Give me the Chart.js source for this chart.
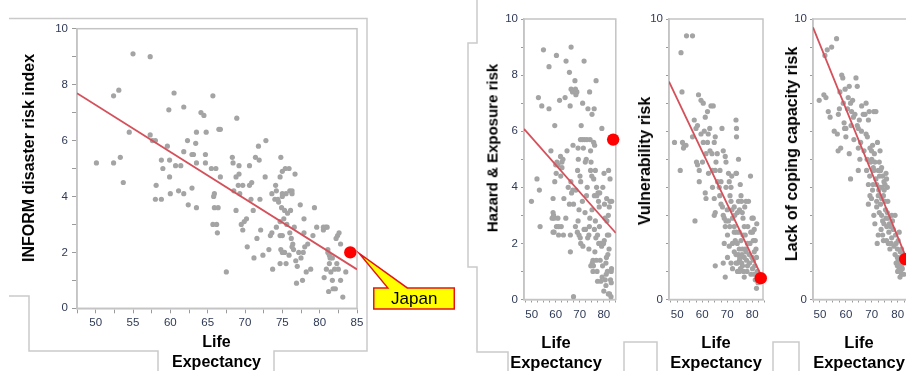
<!DOCTYPE html>
<html>
<head>
<meta charset="utf-8">
<script src="https://cdn.jsdelivr.net/npm/chart.js@4.4.0/dist/chart.umd.min.js"></script>
<style>
html, body { margin: 0; padding: 0; background: #fff; width: 906px; height: 371px; overflow: hidden; position: relative; }
canvas { position: absolute; top: 0; }
.ytitle { position: absolute; font: bold 16px "Liberation Sans", Arial, sans-serif; white-space: nowrap; color: #000;
          transform: translate(-50%, -50%) rotate(-90deg); }
.xtitle { position: absolute; font: bold 16px "Liberation Sans", Arial, sans-serif; text-align: center; line-height: 20px;
          white-space: nowrap; color: #000; transform: translateX(-50%); }
</style>
</head>
<body>
<svg width="906" height="371" style="position:absolute;left:0;top:0">
  <g fill="none" stroke="#cacaca" stroke-width="1.5">
    <polyline points="9,18.5 367,18.5 367,351 274,351 274,371"/>
    <polyline points="9,296 29,296 29,351 158,351 158,371"/>
    <polyline points="477,0 477,43 468,43 468,267 477,267 477,352 508,352 508,371"/>
    <polyline points="624,371 624,342 657,342 657,371"/>
    <polyline points="773,371 773,342 799,342 799,371"/>
  </g>
</svg>
<canvas id="mainChart" width="460" height="371" style="left:0px"></canvas>
<canvas id="hazChart" width="160" height="371" style="left:462px"></canvas>
<canvas id="vulChart" width="150" height="371" style="left:622px"></canvas>
<canvas id="copChart" width="150" height="371" style="left:772px"></canvas>

<div class="ytitle" style="left:29px;top:157.5px">INFORM disaster risk index</div>
<div class="ytitle" style="left:492px;top:147.5px;font-size:15px">Hazard &amp; Exposure risk</div>
<div class="ytitle" style="left:645px;top:160.5px">Vulnerability risk</div>
<div class="ytitle" style="left:792px;top:154px">Lack of coping capacity risk</div>
<div class="xtitle" style="left:216.5px;top:332px">Life<br>Expectancy</div>
<div class="xtitle" style="left:556px;top:332px;font-size:16.5px">Life<br>Expectancy</div>
<div class="xtitle" style="left:716px;top:332px;font-size:16.5px">Life<br>Expectancy</div>
<div class="xtitle" style="left:859px;top:332px;font-size:16.5px">Life<br>Expectancy</div>

<script>
// INFORM disaster risk index vs life expectancy (one point per country)
const mainLife = [
  50.1,52.4,52.4,53.1,53.3,53.7,54.5,55.0,57.3,57.3,
  57.6,58.0,58.1,58.0,58.8,58.8,59.0,59.6,59.8,59.9,
  59.9,60.0,60.5,60.7,61.1,61.4,61.8,61.8,61.8,62.3,
  62.4,62.9,62.9,63.1,63.4,63.5,63.5,63.5,64.1,64.5,
  64.7,64.7,64.8,65.5,65.7,65.8,65.9,65.9,65.7,66.1,
  66.2,66.3,66.4,66.5,66.7,66.7,67.5,68.3,68.4,68.5,
  68.8,68.8,68.9,69.2,69.1,69.2,69.3,69.5,69.7,69.7,
  69.9,70.2,70.3,70.6,70.6,70.8,70.9,71.1,71.2,71.4,
  71.6,71.8,71.9,72.0,72.1,72.4,72.7,72.8,73.2,73.4,
  73.6,73.6,73.7,74.0,74.1,74.2,74.2,74.4,74.5,74.7,
  74.7,74.7,74.8,74.7,74.8,75.0,75.0,75.0,74.9,75.0,
  75.0,75.2,75.3,75.3,75.4,75.5,75.5,75.6,75.7,75.9,
  75.9,76.0,76.0,76.1,76.2,76.3,76.3,76.3,76.4,76.5,
  76.6,76.7,76.8,76.9,77.0,77.2,77.4,77.5,77.7,77.8,
  77.9,77.9,78.0,78.2,78.4,78.8,79.1,79.3,79.6,80.5,
  80.5,80.8,80.6,80.9,81.0,81.1,81.1,81.2,81.3,81.3,
  81.4,81.5,81.7,81.7,81.8,82.0,82.1,82.2,82.3,82.4,
  82.5,82.6,82.8,82.8,83.1,83.5
];
const mainRisk = [
  5.2,5.2,7.6,7.8,5.4,4.5,6.3,9.1,9.0,6.2,
  6.0,6.0,4.4,3.9,3.9,5.3,5.0,5.8,7.1,5.3,
  4.7,4.1,7.7,5.1,4.2,5.1,4.1,5.6,7.2,6.0,
  3.7,5.5,4.3,5.5,5.9,6.3,5.2,3.6,7.0,6.9,
  5.5,5.2,6.3,5.0,7.6,4.0,4.1,3.6,3.0,5.0,
  3.0,2.7,3.6,6.4,6.4,4.7,1.3,5.4,5.2,4.2,
  4.7,3.5,6.8,5.1,4.4,4.8,4.1,3.0,4.4,2.8,
  3.1,3.2,2.2,5.1,4.4,3.9,4.5,3.5,1.8,5.4,
  2.5,5.8,5.3,3.9,2.8,1.9,4.7,6.0,2.1,2.6,
  2.7,4.1,1.4,3.9,4.4,4.2,2.9,3.9,3.8,4.7,
  2.6,3.1,2.1,1.6,5.4,4.9,4.1,4.0,3.6,2.0,
  2.6,3.2,3.5,2.0,5.0,1.6,4.1,3.0,3.4,5.0,
  1.9,2.7,4.2,3.5,2.5,2.2,4.2,4.1,2.3,2.1,
  2.9,4.8,1.7,0.9,1.5,2.0,3.7,1.8,1.0,2.0,
  2.7,3.2,2.2,1.3,2.3,1.4,2.6,3.6,2.9,2.8,
  2.9,2.9,1.1,1.4,2.9,2.1,2.0,0.6,1.9,1.6,
  1.8,1.3,1.0,1.8,0.7,1.4,0.7,2.5,1.6,2.6,
  1.4,2.7,1.0,2.3,0.4,1.3
];

// Hazard & Exposure risk
const hazLife = [
  49.9,52.2,53.2,53.5,52.8,54.2,54.9,57.2,57.2,58.0,
  58.9,58.5,58.9,59.6,58.9,59.6,60.3,59.3,59.3,60.3,
  60.0,60.5,60.9,61.2,61.2,61.6,62.0,62.3,62.6,62.6,
  63.0,63.4,63.9,64.3,64.7,65.7,65.7,66.1,66.1,66.4,
  66.6,66.4,67.0,67.4,67.4,68.0,68.4,68.4,68.8,69.1,
  69.3,69.3,69.7,69.7,70.1,70.4,70.4,70.6,71.1,71.2,
  71.1,71.8,71.8,72.0,72.2,72.7,72.8,73.1,73.8,73.8,
  74.1,74.2,74.5,74.5,74.7,75.1,75.1,75.5,75.5,75.8,
  75.8,76.1,76.1,76.5,76.5,76.8,76.9,77.2,77.4,77.4,
  77.8,77.9,78.5,78.8,79.2,79.6,79.9,80.1,80.5,80.9,
  80.9,81.2,81.5,81.5,81.9,81.9,82.3,82.6,82.6,82.8,
  83.2,83.0,
  65.2,66.3,67.1,68.2,69.0,70.2,71.3,72.4,73.3,74.0,
  74.6,75.2,75.7,76.3,76.7,77.1,77.6,78.1,78.6,79.1,
  79.5,80.2,80.6,81.1,81.7,82.1,82.4,83.1,83.3,64.2,
  63.2,62.1,61.0,60.2,59.1,70.3,71.5,72.3,73.4,75.0,
  76.2,77.0,78.2,79.3,80.0,81.0,82.2,83.1,68.2,69.4,
  67.2,66.0,73.0,74.3,76.0,78.3,80.3,81.3,82.0
];
const hazRisk = [
  3.5,4.3,3.9,2.6,7.2,6.9,8.9,6.8,8.3,5.3,
  2.4,2.9,3.1,6.2,3.6,4.2,8.7,2.9,2.4,2.6,
  4.8,4.9,2.9,2.3,2.6,7.1,5.1,2.6,4.9,4.7,
  5.0,3.6,7.2,8.5,5.3,8.1,3.4,2.3,1.7,9.0,
  3.8,7.5,7.4,3.4,0.1,7.8,7.3,3.9,7.4,4.6,
  5.4,2.8,3.2,2.3,4.4,4.2,2.0,6.2,5.7,7.0,
  3.5,2.5,8.5,5.7,3.1,5.0,3.7,4.0,2.3,1.8,
  7.4,2.9,4.6,5.3,4.9,6.6,3.2,1.4,1.0,4.3,
  5.6,3.7,2.5,4.6,2.8,7.8,1.4,1.0,2.3,0.65,
  3.5,2.0,1.4,0.65,6.1,4.0,2.0,4.5,2.9,1.3,
  0.5,3.6,2.3,1.0,3.0,0.2,3.3,4.3,3.5,0.7,
  1.1,0.1,
  4.0,4.2,3.9,2.6,2.4,2.2,1.9,2.5,2.2,2.6,
  1.2,1.3,1.2,1.7,2.2,3.7,3.8,3.3,2.0,1.9,
  1.2,2.1,0.7,1.5,1.6,2.3,0.2,1.0,3.5,2.9,
  2.3,4.4,4.8,4.5,3.0,5.7,5.4,4.9,6.8,4.4,
  5.5,4.0,2.6,0.8,0.3,0.9,1.8,0.6,7.5,5.0,
  5.5,6.9,5.7,5.7,6.8,3.8,3.4,2.8,4.6
];

// Vulnerability risk
const vulLife = [
  53.7,56.1,51.5,51.9,48.9,51.2,52.1,52.8,53.5,52.5,
  57.1,56.1,56.8,57.5,58.1,58.5,59.5,60.4,61.2,62.1,
  63.5,64.4,62.4,62.1,60.4,59.5,57.7,58.1,58.8,58.8,
  61.2,61.5,62.5,63.1,63.9,64.8,65.2,65.5,65.2,64.1,
  64.8,65.2,64.8,67.9,68.4,69.2,69.5,67.1,67.5,66.8,
  67.5,68.1,68.4,68.8,69.2,70.1,68.8,68.4,65.2,69.2,
  70.5,70.8,71.5,71.1,71.5,71.9,72.1,72.8,72.8,73.2,
  72.8,73.5,73.7,73.5,73.7,74.5,73.7,73.5,74.5,74.1,
  74.9,75.7,76.3,76.8,76.3,77.2,77.5,77.7,76.1,76.8,
  74.8,74.5,74.9,74.1,75.3,78.1,79.3,79.9,80.4,80.1,
  80.4,80.8,81.2,81.5,80.8,81.7,80.1,80.8,81.2,81.7,
  79.9,79.1,78.8,78.1,78.5,77.5,77.0,75.5,72.1,70.8,
  70.1,71.5,72.1,73.5,74.1,74.9,73.7,74.8,75.5,76.8,
  75.9,76.1,72.8,69.5,66.1,64.1,61.5,60.1,69.5,70.5,
  75.0,75.8,76.5,77.9,78.9,79.5,80.5,81.0,82.0,82.3,
  77.2,78.2,79.4,76.0,74.0,73.0,71.0,70.0,67.0,66.0,
  63.0,60.8,71.8,75.2,81.8
];
const vulRisk = [
  9.4,9.4,8.8,7.4,5.6,4.6,5.6,5.5,5.5,5.4,
  2.8,5.8,6.4,6.1,6.2,7.3,7.1,7.0,6.5,6.7,
  6.9,6.9,5.9,5.6,5.6,5.9,4.9,4.8,4.6,4.2,
  3.8,3.6,4.5,5.3,5.2,5.6,5.8,4.9,4.6,4.0,
  3.6,3.1,3.0,6.1,5.3,5.1,4.9,4.6,4.2,4.0,
  3.4,3.3,3.0,2.9,2.6,2.3,2.0,1.3,1.2,0.8,
  4.5,4.2,4.0,3.7,3.5,3.2,2.9,2.6,2.4,2.1,
  1.7,1.6,6.1,6.4,5.8,5.0,4.5,4.5,3.5,3.1,
  3.2,3.5,2.9,2.6,2.3,1.8,1.7,1.4,1.2,0.8,
  1.8,1.6,1.4,1.3,1.1,1.2,4.4,2.9,2.9,2.4,
  2.1,2.5,2.1,1.8,1.7,1.5,1.1,0.9,0.7,0.4,
  1.5,2.0,1.6,2.0,3.5,3.5,3.3,3.7,2.0,1.9,
  1.5,1.3,1.1,1.3,1.0,1.0,2.4,2.4,2.1,1.5,
  1.6,1.8,3.3,4.0,4.2,4.6,5.2,4.9,2.8,2.8,
  1.5,1.3,1.0,1.0,1.3,0.9,1.4,1.2,1.0,0.6,
  2.3,2.6,2.4,3.1,2.0,3.0,2.6,3.2,3.7,5.2,
  6.1,6.0,4.4,4.1,2.7
];

// Lack of coping capacity risk
const copLife = [
  49.7,51.5,52.3,51.9,52.8,54.5,56.4,53.2,53.9,56.7,
  57.1,57.5,57.7,58.0,58.4,58.8,59.0,59.3,59.7,60.0,
  60.0,60.6,60.9,61.3,61.3,61.8,61.8,62.2,62.6,62.9,
  63.1,63.9,64.4,64.4,64.8,65.2,64.8,65.4,64.8,65.7,
  66.1,66.7,67.4,67.8,67.8,68.3,68.7,69.0,69.3,69.9,
  70.3,70.8,71.6,69.6,70.6,71.2,68.0,68.7,68.7,69.3,
  69.9,70.3,70.8,71.6,71.9,72.5,72.9,73.2,73.2,73.4,
  73.8,74.2,74.7,75.1,75.5,75.7,76.0,71.9,72.5,70.8,
  71.9,72.9,73.4,73.8,74.5,75.1,73.8,74.2,74.7,75.5,
  76.0,76.4,76.8,77.3,77.7,78.3,79.0,77.7,77.0,76.4,
  75.7,74.5,74.2,72.5,72.1,79.4,79.9,80.2,80.6,79.0,
  79.9,80.2,80.6,81.1,81.5,80.6,81.1,81.5,79.9,79.4,
  81.8,82.1,81.5,81.0,
  62.0,63.5,66.0,67.0,68.2,70.0,71.0,72.2,73.0,74.0,
  74.8,75.3,76.2,76.6,77.5,78.0,78.6,79.2,80.0,80.9,
  81.3,82.2,82.4,69.2,70.5,72.7,71.2,73.6,75.8,57.0,
  59.5,55.5
];
const copRisk = [
  7.1,7.3,7.2,8.7,8.9,9.0,9.3,6.7,6.5,5.9,
  6.6,6.8,7.4,5.4,8.0,7.9,7.0,6.3,7.5,5.8,
  6.1,6.8,7.2,7.6,5.2,7.0,4.3,6.7,7.1,6.5,
  5.7,7.9,7.6,6.2,6.1,6.4,5.4,5.0,4.6,5.6,
  6.9,6.6,6.6,7.0,5.9,5.8,6.4,6.7,5.4,5.3,
  5.5,6.7,6.7,4.9,4.7,4.9,4.6,4.1,3.4,3.7,
  3.6,3.9,4.6,4.3,4.1,4.6,4.9,5.3,4.0,4.6,
  4.7,4.4,4.2,4.1,4.5,4.3,4.0,3.5,3.7,3.0,
  3.3,3.1,3.4,3.6,3.7,3.5,3.0,2.8,2.7,2.9,
  3.1,2.9,2.7,2.6,3.0,2.5,3.0,2.2,1.8,2.0,
  2.1,2.1,2.3,2.3,2.0,2.0,1.8,2.1,2.4,1.6,
  1.5,1.4,1.3,1.4,1.2,1.1,1.0,0.9,1.2,1.3,
  1.1,1.6,1.8,1.7,
  6.2,6.6,6.0,5.3,5.0,5.0,5.2,5.6,4.4,4.0,
  3.9,3.2,3.5,2.4,2.0,2.8,1.9,2.3,1.0,0.8,
  1.5,1.3,0.9,4.4,4.1,3.9,2.7,2.5,2.6,5.3,
  6.1,6.0
];

// Japan, highlighted in each panel: main, hazard, vulnerability, coping
const japanLife = [84.1, 83.9, 83.4, 82.9];
const japanRisk = [2.0, 5.7, 0.76, 1.44];

// fitted lines, [start, end] per panel
const fitLife = [[47.5, 85], [46.8, 85], [46.7, 84.3], [47.3, 85]];
const fitRisk = [[7.69, 1.39], [6.08, 2.37], [7.77, 0.72], [9.7, 1.1]];

const xTickValues = [47.5, 50, 52.5, 55, 57.5, 60, 62.5, 65, 67.5, 70, 72.5, 75, 77.5, 80, 82.5, 85];
const yTickValues = [0, 1, 2, 3, 4, 5, 6, 7, 8, 9, 10];

const dotColor = '#a4a4a4';
const fitColor = '#d4505a';
const axisColor = '#c4c4c4';
const tickTextColor = '#2f3a56';
const tickFont = { family: '"Liberation Sans", Arial, sans-serif', size: 11.5 };

function toPoints(xs, ys) {
    return xs.map((x, i) => ({ x: x, y: ys[i] }));
}

// light frame round the plot area
const frameBox = {
    id: 'frameBox',
    beforeDatasetsDraw(chart) {
        const { ctx, chartArea: a } = chart;
        ctx.save();
        ctx.strokeStyle = axisColor;
        ctx.lineWidth = 1.5;
        ctx.strokeRect(a.left, a.top, a.right - a.left, a.bottom - a.top);
        ctx.restore();
    }
};

// yellow "Japan" label pointing at the red dot
const japanCallout = {
    id: 'japanCallout',
    afterDatasetsDraw(chart) {
        const pt = chart.getDatasetMeta(2).data[0];
        if (!pt) return;
        const { ctx } = chart;
        const x = pt.x, y = pt.y;
        ctx.save();
        ctx.beginPath();
        ctx.moveTo(x + 23.5, y + 35.5);
        ctx.lineTo(x + 37.5, y + 35.5);
        ctx.lineTo(x + 9, y + 1);
        ctx.lineTo(x + 57, y + 35.5);
        ctx.lineTo(x + 104, y + 35.5);
        ctx.lineTo(x + 104, y + 56.5);
        ctx.lineTo(x + 23.5, y + 56.5);
        ctx.closePath();
        ctx.fillStyle = '#ffff00';
        ctx.fill();
        ctx.strokeStyle = '#e3141c';
        ctx.lineWidth = 1.5;
        ctx.stroke();
        ctx.fillStyle = '#000';
        ctx.font = '17px "Liberation Sans", Arial, sans-serif';
        ctx.textAlign = 'center';
        ctx.textBaseline = 'middle';
        ctx.fillText('Japan', x + 64, y + 47);
        ctx.restore();
    }
};

function makePanel(p, k) {
    const plugins = [frameBox];
    if (p.callout) plugins.push(japanCallout);

    return new Chart(document.getElementById(p.id), {
        type: 'scatter',
        data: {
            datasets: [{
                data: toPoints(fitLife[k], fitRisk[k]),
                showLine: true,
                borderColor: fitColor,
                borderWidth: 1.8,
                pointRadius: 0,
                order: 1
            }, {
                data: toPoints(p.life, p.risk),
                backgroundColor: dotColor,
                borderWidth: 0,
                pointRadius: 2.6,
                order: 2
            }, {
                data: [{ x: japanLife[k], y: japanRisk[k] }],
                backgroundColor: '#ff0000',
                borderWidth: 0,
                pointRadius: 6.2,
                clip: false,
                order: 0
            }]
        },
        options: {
            responsive: false,
            animation: false,
            layout: { padding: { left: 0, right: p.padRight, top: p.top, bottom: 0 } },
            plugins: { legend: { display: false }, tooltip: { enabled: false } },
            scales: {
                x: {
                    type: 'linear',
                    min: p.xMin,
                    max: p.xMax,
                    afterFit: s => { s.height = p.xAxisH; },
                    afterBuildTicks: s => { s.ticks = xTickValues.map(v => ({ value: v })); },
                    grid: { drawOnChartArea: false, drawTicks: true, tickLength: p.tickLen, tickColor: '#9a9a9a' },
                    border: { display: true, color: axisColor, width: 1.5 },
                    ticks: {
                        autoSkip: false, maxRotation: 0, minRotation: 0,
                        padding: p.xPad, color: tickTextColor, font: tickFont,
                        callback: v => (v % p.xLabelEvery === 0 ? String(v) : '')
                    }
                },
                y: {
                    type: 'linear',
                    min: 0,
                    max: 10,
                    afterFit: s => { s.width = p.yAxisW; },
                    afterBuildTicks: s => { s.ticks = yTickValues.map(v => ({ value: v })); },
                    grid: { drawOnChartArea: false, drawTicks: true, tickLength: p.tickLen, tickColor: '#9a9a9a' },
                    border: { display: true, color: axisColor, width: 1.5 },
                    ticks: {
                        autoSkip: false,
                        padding: p.yPad, color: tickTextColor, font: tickFont,
                        callback: v => (p.yLabels.includes(v) ? String(v) : '')
                    }
                }
            }
        },
        plugins: plugins
    });
}

const panels = [
    { id: 'mainChart', life: mainLife, risk: mainRisk, xMin: 47.5, xMax: 85, yAxisW: 77, padRight: 103,
      top: 28.7, xAxisH: 62.7, tickLen: 5, xPad: 3, yPad: 4, xLabelEvery: 5, yLabels: [0, 2, 4, 6, 8, 10], callout: true },
    { id: 'hazChart', life: hazLife, risk: hazRisk, xMin: 46.8, xMax: 85, yAxisW: 62, padRight: 4,
      top: 19, xAxisH: 71.5, tickLen: 3, xPad: 5, yPad: 3, xLabelEvery: 10, yLabels: [0, 2, 4, 6, 8, 10] },
    { id: 'vulChart', life: vulLife, risk: vulRisk, xMin: 46.7, xMax: 84.3, yAxisW: 47, padRight: 9,
      top: 19, xAxisH: 71.5, tickLen: 3, xPad: 5, yPad: 3, xLabelEvery: 10, yLabels: [0, 10] },
    { id: 'copChart', life: copLife, risk: copRisk, xMin: 47.3, xMax: 85, yAxisW: 41, padRight: 11.4,
      top: 19, xAxisH: 71.5, tickLen: 3, xPad: 5, yPad: 3, xLabelEvery: 10, yLabels: [0, 10] }
];

panels.forEach((p, k) => makePanel(p, k));
</script>
</body>
</html>
